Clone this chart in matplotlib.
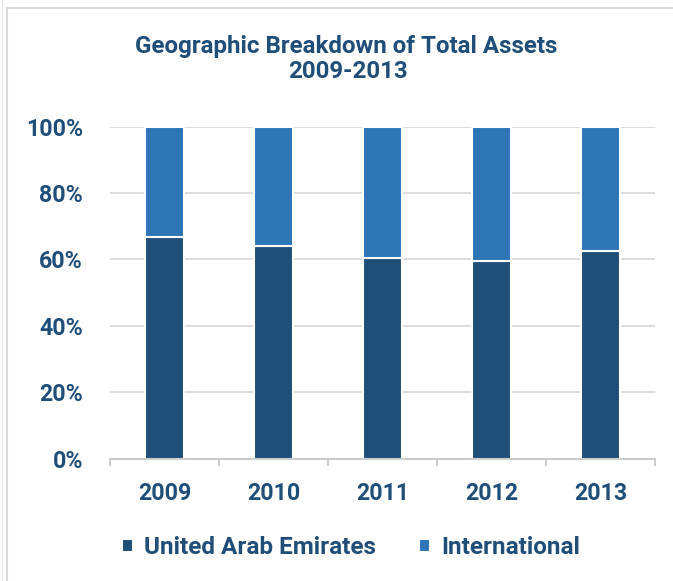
import matplotlib
matplotlib.use("Agg")
import matplotlib.pyplot as plt
from matplotlib.lines import Line2D
import numpy as np

years = ["2009", "2010", "2011", "2012", "2013"]
uae = [66.8, 64.0, 60.3, 59.6, 62.4]
international = [100 - v for v in uae]
series_names = ["United Arab Emirates", "International"]
ytick_labels = ["0%", "20%", "40%", "60%", "80%", "100%"]
title_lines = ["Geographic Breakdown of Total Assets", "2009-2013"]

DARK = "#1F4E79"
LIGHT = "#2E75B6"
TEXT = "#1F4E79"
GRID = "#D9D9D9"

plt.rcParams['font.family'] = ['Roboto', 'DejaVu Sans']
plt.rcParams['font.weight'] = 'bold'

fig = plt.figure(figsize=(6.73, 5.81), dpi=100)
W, H = 673, 581
renderer = fig.canvas.get_renderer()


def fit_size(text, target_px, base=16):
    t = fig.text(0, 0, text, fontsize=base, fontweight='bold')
    w = t.get_window_extent(renderer).width
    t.remove()
    return base * target_px / w


tick_fs = fit_size("100%", 57)
title_fs = fit_size(title_lines[0], 425)
leg_fs = fit_size(series_names[0], 233)

ax = fig.add_axes([110 / W, 1 - 458.5 / H, 545 / W, 331.8 / H])

x = np.arange(len(years))
b1 = ax.bar(x, uae, width=0.36, color=DARK, edgecolor="white", linewidth=1.5, zorder=3,
            label=series_names[0])
b2 = ax.bar(x, international, bottom=uae, width=0.36, color=LIGHT, edgecolor="white",
            linewidth=1.5, zorder=3, label=series_names[1])

ax.set_xlim(-0.5, len(years) - 0.5)
ax.set_ylim(0, 100)
ax.set_yticks(np.arange(0, 101, 20))
ax.set_yticklabels(ytick_labels)
ax.set_xticks(x)
ax.set_xticklabels(years)
ax.set_xticks(np.arange(-0.5, len(years), 1), minor=True)

ax.grid(axis='y', color=GRID, linewidth=1.3, zorder=0)
ax.set_axisbelow(True)
for s in ['top', 'right', 'left']:
    ax.spines[s].set_visible(False)
ax.spines['bottom'].set_color("#C8C8C8")
ax.spines['bottom'].set_linewidth(1.3)
ax.spines['bottom'].set_zorder(4)

ax.tick_params(axis='y', length=0, pad=19.5, labelsize=tick_fs, labelcolor=TEXT)
ax.tick_params(axis='x', which='major', length=0, pad=17, labelsize=tick_fs, labelcolor=TEXT)
ax.tick_params(axis='x', which='minor', length=5, width=1.3, color="#C8C8C8")
for lab in ax.get_xticklabels() + ax.get_yticklabels():
    lab.set_fontweight('bold')

fig.text(346 / W, 1 - 53.3 / H, title_lines[0], ha='center', va='baseline',
         fontsize=title_fs, fontweight='bold', color=TEXT)
fig.text(348 / W, 1 - 78.3 / H, title_lines[1], ha='center', va='baseline',
         fontsize=title_fs, fontweight='bold', color=TEXT)

leg = fig.legend(handles=[b1, b2], labels=series_names, loc='center', ncol=2,
                 bbox_to_anchor=(351 / W, 1 - 548 / H), frameon=False,
                 handlelength=0.45, handleheight=0.45, handletextpad=0.45,
                 columnspacing=1.8, prop={'size': leg_fs, 'weight': 'bold'})
for t in leg.get_texts():
    t.set_color(TEXT)

# chart-area border lines
fig.add_artist(Line2D([7 / W, 7 / W], [0, 1 - 8 / H], color="#D9D9D9", linewidth=1.5))
fig.add_artist(Line2D([7 / W, 1], [1 - 8 / H, 1 - 8 / H], color="#D9D9D9", linewidth=1.5))
fig.add_artist(Line2D([2 / W, 2 / W], [0, 1], color="#E6E6E6", linewidth=1.0))

fig.savefig("out.png", dpi=100)
